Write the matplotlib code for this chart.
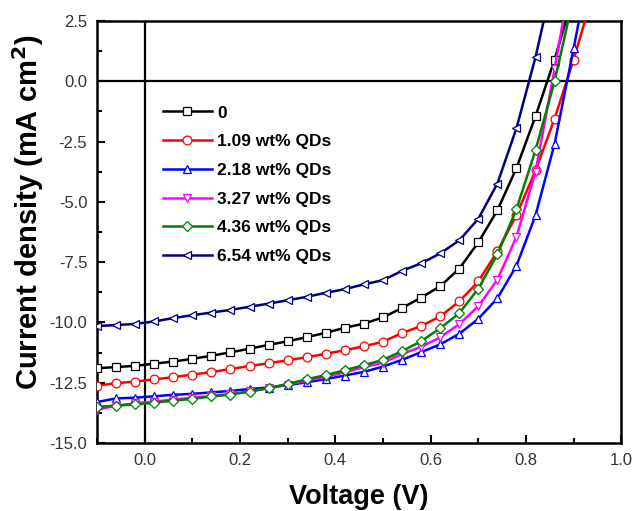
import matplotlib
matplotlib.use("Agg")
import matplotlib.pyplot as plt
from matplotlib.ticker import MultipleLocator, FormatStrFormatter

plt.rcParams["font.family"] = ["Liberation Sans", "DejaVu Sans"]

# voltage grid (V)
volts = [-0.10, -0.06, -0.02, 0.02, 0.06, 0.10, 0.14, 0.18, 0.22, 0.26,
         0.30, 0.34, 0.38, 0.42, 0.46, 0.50, 0.54, 0.58, 0.62, 0.66,
         0.70, 0.74, 0.78, 0.82, 0.86, 0.90, 0.94]

# current density (mA cm^-2), one list per QD loading
j_0 = [-11.90, -11.85, -11.80, -11.71, -11.62, -11.51, -11.38, -11.24, -11.09, -10.93,
       -10.78, -10.61, -10.43, -10.22, -10.05, -9.79, -9.40, -8.97, -8.50, -7.77,
       -6.68, -5.35, -3.60, -1.45, 0.90, 3.60, 6.5]
j_109 = [-12.62, -12.52, -12.45, -12.36, -12.27, -12.16, -12.06, -11.93, -11.81, -11.69,
         -11.57, -11.44, -11.30, -11.15, -10.99, -10.80, -10.44, -10.15, -9.75, -9.13,
         -8.30, -7.05, -5.55, -3.70, -1.55, 0.90, 3.6]
j_218 = [-13.30, -13.15, -13.12, -13.06, -13.00, -12.96, -12.90, -12.84, -12.76, -12.70,
         -12.60, -12.48, -12.35, -12.20, -12.05, -11.83, -11.55, -11.23, -10.91, -10.47,
         -9.85, -9.00, -7.65, -5.56, -2.59, 1.36, 5.5]
j_327 = [-13.62, -13.45, -13.35, -13.28, -13.20, -13.12, -13.05, -12.97, -12.86, -12.73,
         -12.58, -12.42, -12.25, -12.07, -11.85, -11.67, -11.31, -11.01, -10.62, -10.07,
         -9.33, -8.23, -6.45, -3.75, 0.50, 5.0, 9.5]
j_436 = [-13.50, -13.45, -13.40, -13.33, -13.24, -13.17, -13.07, -12.99, -12.87, -12.72,
         -12.55, -12.36, -12.18, -11.98, -11.77, -11.55, -11.19, -10.78, -10.24, -9.62,
         -8.60, -7.18, -5.30, -2.86, 0.00, 3.50, 7.0]
j_654 = [-10.15, -10.11, -10.06, -9.96, -9.82, -9.70, -9.59, -9.48, -9.35, -9.22,
         -9.08, -8.94, -8.77, -8.62, -8.42, -8.25, -7.86, -7.55, -7.14, -6.60,
         -5.70, -4.24, -1.95, 1.00, 4.50, 8.0, 11.5]

labels = ["0", "1.09 wt% QDs", "2.18 wt% QDs", "3.27 wt% QDs", "4.36 wt% QDs", "6.54 wt% QDs"]
series = [j_0, j_109, j_218, j_327, j_436, j_654]
colors = ["black", "#ff0000", "#0000ff", "#ff00ff", "#008000", "#000080"]
markers = ["s", "o", "^", "v", "D", "<"]

fig = plt.figure(figsize=(6.34, 5.11), dpi=100)
ax = fig.add_axes([0.153, 0.133, 0.827, 0.826])

ax.axhline(0, color="black", lw=1.6, zorder=1)
ax.axvline(0, color="black", lw=1.6, zorder=1)

for j, lab, c, m in zip(series, labels, colors, markers):
	ms = 5.4 if m == "D" else 6.3
	ax.plot(volts, j, color=c, lw=1.8, marker=m, ms=ms, mfc="white", mec=c, mew=0.9, label=lab, zorder=3)

ax.set_xlim(-0.1, 1.0)
ax.set_ylim(-15.0, 2.5)
ax.xaxis.set_major_locator(MultipleLocator(0.2))
ax.xaxis.set_minor_locator(MultipleLocator(0.1))
ax.yaxis.set_major_locator(MultipleLocator(2.5))
ax.yaxis.set_minor_locator(MultipleLocator(1.25))
ax.xaxis.set_major_formatter(FormatStrFormatter("%.1f"))
ax.yaxis.set_major_formatter(FormatStrFormatter("%.1f"))
ax.tick_params(which="both", direction="in", top=False, right=False, width=1.5,
               labelsize=12, labelcolor="#333333")
ax.tick_params(which="major", length=6, pad=7)
ax.tick_params(which="minor", length=3.5)
for s in ax.spines.values():
	s.set_linewidth(1.8)

ax.set_xlabel("Voltage (V)", fontsize=19.5, fontweight="bold", labelpad=12)
ax.set_ylabel("Current density (mA cm$^{\\mathbf{2}}$)", fontsize=21, fontweight="bold")
ax.yaxis.set_label_coords(-0.097, 0.547)

ax.legend(loc="upper left", bbox_to_anchor=(0.126, 0.80), frameon=False,
          borderpad=0, borderaxespad=0, handlelength=2.8, handletextpad=0.3,
          labelspacing=0.78, prop={"weight": "bold", "size": 12.5})

fig.savefig("out.png", dpi=100)
